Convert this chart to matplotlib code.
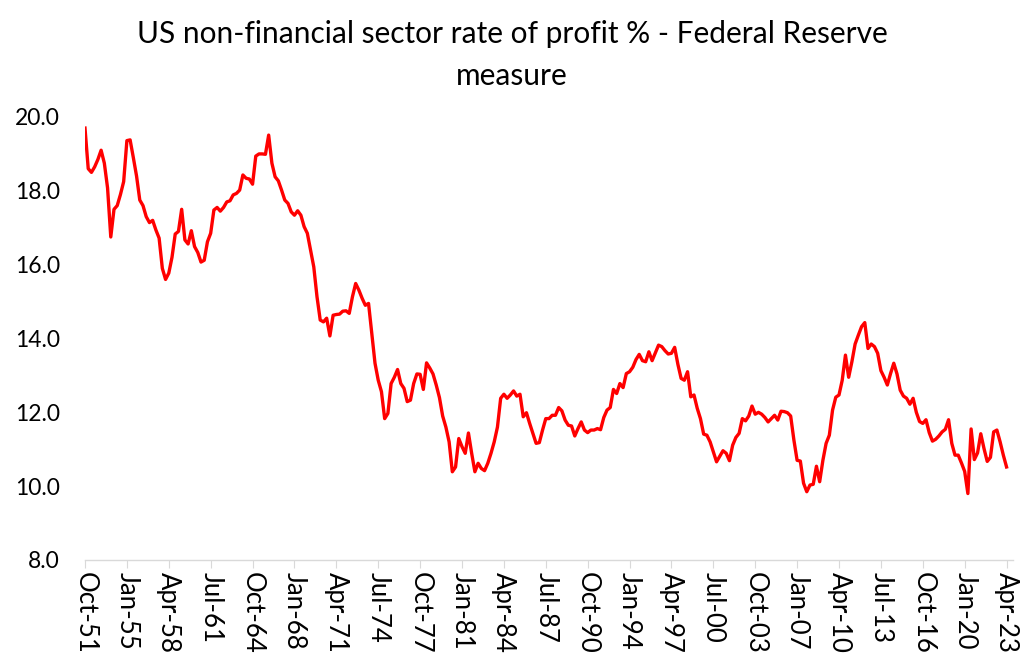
import matplotlib
matplotlib.use("Agg")
import matplotlib.pyplot as plt
import pandas as pd

# Quarterly rate of profit, Q4 1951 to Q2 2023
profit_rate = [
    19.7, 18.6, 18.5, 18.65, 18.85, 19.1, 18.75, 18.08, 16.75, 17.5,
    17.6, 17.9, 18.25, 19.36, 19.38, 18.9, 18.4, 17.75, 17.6, 17.3,
    17.14, 17.2, 16.94, 16.72, 15.9, 15.6, 15.77, 16.2, 16.83, 16.9,
    17.5, 16.67, 16.56, 16.92, 16.49, 16.33, 16.07, 16.12, 16.62, 16.85,
    17.48, 17.55, 17.45, 17.55, 17.7, 17.73, 17.89, 17.93, 18.02, 18.43,
    18.34, 18.32, 18.18, 18.94, 19.0, 19.0, 18.99, 19.51, 18.75, 18.38,
    18.27, 18.02, 17.75, 17.66, 17.43, 17.34, 17.46, 17.34, 17.03, 16.85,
    16.4, 15.94, 15.13, 14.5, 14.45, 14.55, 14.07, 14.63, 14.65, 14.66,
    14.74, 14.75, 14.68, 15.13, 15.49, 15.31, 15.09, 14.9, 14.95, 14.14,
    13.33, 12.87, 12.56, 11.83, 11.97, 12.78, 12.95, 13.16, 12.78, 12.65,
    12.29, 12.33, 12.78, 13.04, 13.03, 12.62, 13.34, 13.2, 13.04, 12.74,
    12.4, 11.9, 11.6, 11.2, 10.39, 10.52, 11.29, 11.07, 10.89, 11.44,
    10.89, 10.39, 10.62, 10.48, 10.42, 10.62, 10.89, 11.2, 11.6, 12.38,
    12.49, 12.38, 12.47, 12.58, 12.44, 12.49, 11.88, 11.99, 11.7, 11.43,
    11.16, 11.18, 11.52, 11.83, 11.83, 11.92, 11.92, 12.13, 12.04, 11.79,
    11.65, 11.63, 11.36, 11.56, 11.74, 11.52, 11.45, 11.52, 11.52, 11.56,
    11.53, 11.86, 12.06, 12.13, 12.62, 12.51, 12.78, 12.67, 13.05, 13.1,
    13.22, 13.43, 13.57, 13.4, 13.37, 13.64, 13.4, 13.61, 13.82, 13.78,
    13.67, 13.58, 13.6, 13.76, 13.3, 12.92, 12.87, 13.1, 12.42, 12.47,
    12.11, 11.83, 11.41, 11.38, 11.2, 10.93, 10.66, 10.81, 10.96, 10.89,
    10.69, 11.11, 11.32, 11.43, 11.83, 11.77, 11.9, 12.17, 11.95, 12.0,
    11.95, 11.86, 11.74, 11.83, 11.92, 11.79, 12.03, 12.02, 11.99, 11.9,
    11.25, 10.7, 10.68, 10.08, 9.85, 10.03, 10.05, 10.54, 10.12, 10.7,
    11.16, 11.38, 12.06, 12.41, 12.47, 12.87, 13.55, 12.95, 13.37, 13.85,
    14.09, 14.32, 14.43, 13.73, 13.85, 13.78, 13.6, 13.13, 12.95, 12.74,
    13.05, 13.33, 13.04, 12.6, 12.44, 12.38, 12.22, 12.38, 12.0, 11.75,
    11.7, 11.8, 11.45, 11.22, 11.27, 11.36, 11.47, 11.54, 11.8, 11.16,
    10.84, 10.84, 10.63, 10.4, 9.8, 11.55, 10.72, 10.9, 11.42, 11.02,
    10.67, 10.78, 11.47, 11.52, 11.2, 10.84, 10.52,
]

quarters = pd.period_range("1951Q4", "2023Q2", freq="Q")

tick_labels = ["Oct-51", "Jan-55", "Apr-58", "Jul-61", "Oct-64", "Jan-68",
               "Apr-71", "Jul-74", "Oct-77", "Jan-81", "Apr-84", "Jul-87",
               "Oct-90", "Jan-94", "Apr-97", "Jul-00", "Oct-03", "Jan-07",
               "Apr-10", "Jul-13", "Oct-16", "Jan-20", "Apr-23"]
y_ticks = [8, 10, 12, 14, 16, 18, 20]

plt.rcParams["font.family"] = ["Lato", "DejaVu Sans"]

fig = plt.figure(figsize=(10.24, 6.65), dpi=100)
ax = fig.add_axes([85 / 1024, 1 - 560 / 665, 928 / 1024, 443 / 665])

x = list(range(len(quarters)))
ax.plot(x, profit_rate[:len(x)], color="#FF0000", linewidth=2.4)

# Excel-style axes: only a light grey category axis
ax.set_xlim(0, 288)
ax.set_ylim(8, 20)
ax.set_yticks(y_ticks)
ax.set_yticklabels([f"{v:.1f}" for v in y_ticks], fontsize=16.5)
ax.set_xticks(x[::13])
ax.set_xticklabels(tick_labels, rotation=-90, fontsize=18.5)
for side in ["top", "right", "left"]:
    ax.spines[side].set_visible(False)
ax.spines["bottom"].set_color("#D9D9D9")
ax.spines["bottom"].set_linewidth(1)
ax.tick_params(axis="y", length=0, pad=18)
ax.tick_params(axis="x", length=6, color="#D9D9D9", direction="out", pad=3)

fig.suptitle("US non-financial sector rate of profit % - Federal Reserve\nmeasure",
             fontsize=21.5, y=0.97, linespacing=1.6)

plt.savefig("out.png", dpi=100)
plt.close()
